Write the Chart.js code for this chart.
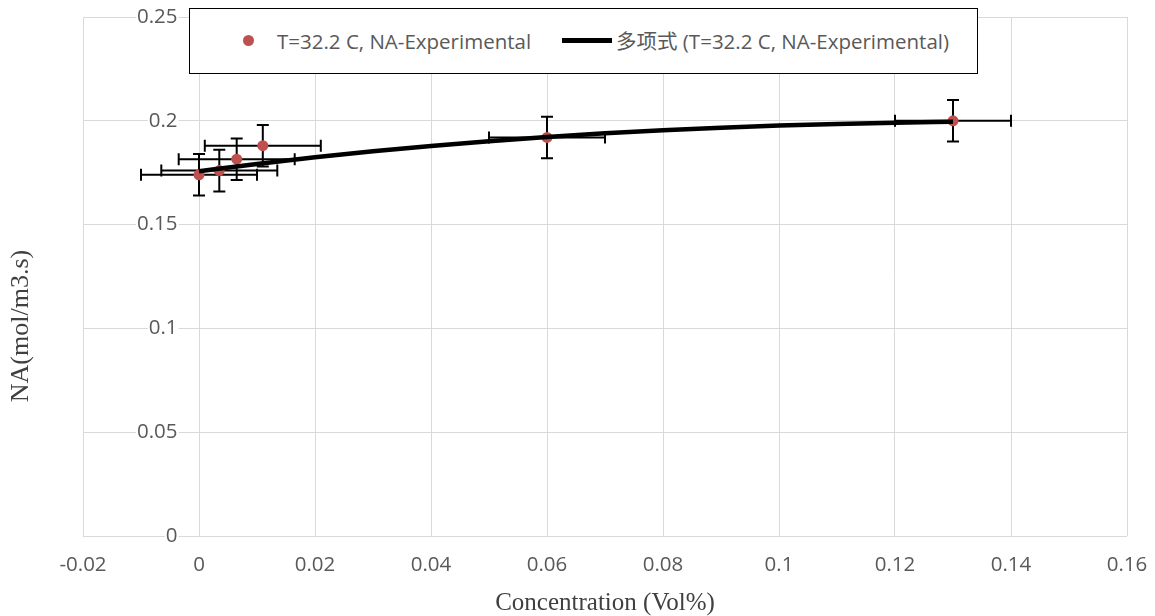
<!DOCTYPE html>
<html>
<head>
<meta charset="utf-8">
<title>NA vs Concentration</title>
<script src="https://cdn.jsdelivr.net/npm/chart.js@4.4.0/dist/chart.umd.min.js"></script>
<style>
  html, body { margin: 0; padding: 0; background: #fff; }
  #wrap { position: relative; width: 1155px; height: 616px; }
  #legend {
    position: absolute; left: 189px; top: 8px; width: 789px; height: 66px;
    box-sizing: border-box; border: 1px solid #000; background: #fff;
    font: 20.5px "Open Sans", "Noto Sans CJK SC", sans-serif; color: #595959;
  }
  #legend .dot { position: absolute; left: 53px; top: 26px; width: 11px; height: 11px; border-radius: 50%; background: #C0504D; }
  #legend .swatch { position: absolute; left: 372px; top: 29px; width: 50px; height: 5px; background: #000; }
  #legend .txt { position: absolute; top: 19px; line-height: 26px; white-space: nowrap; }
</style>
</head>
<body>
<div id="wrap">
  <canvas id="chart" width="1155" height="616"></canvas>
  <div id="legend">
    <span class="dot"></span><span class="txt" id="leg1" style="left:87px"></span>
    <span class="swatch"></span><span class="txt" id="leg2" style="left:426px"></span>
  </div>
</div>
<script>
// measured points (Concentration vs NA) with their error bars
const concentration = [0, 0.0035, 0.0065, 0.011, 0.06, 0.13];
const naRate = [0.174, 0.176, 0.1815, 0.188, 0.192, 0.2];
const concErr = [0.01, 0.01, 0.01, 0.01, 0.01, 0.01];
const rateErr = [0.01, 0.01, 0.01, 0.01, 0.01, 0.01];

// polynomial trend line
const fitX = [0, 0.01, 0.02, 0.03, 0.04, 0.05, 0.06, 0.07, 0.08, 0.09, 0.1, 0.11, 0.12, 0.13];
const fitY = [0.1757, 0.1792, 0.1824, 0.1853, 0.1879, 0.1902, 0.1922, 0.194, 0.1955, 0.1967, 0.1977, 0.1985, 0.1991, 0.1995];

const xTicks = [-0.02, 0, 0.02, 0.04, 0.06, 0.08, 0.1, 0.12, 0.14, 0.16];
const yTicks = [0, 0.05, 0.1, 0.15, 0.2, 0.25];

const seriesName = 'T=32.2 C, NA-Experimental';
const fitName = '多项式 (T=32.2 C, NA-Experimental)';
const xTitle = 'Concentration (Vol%)';
const yTitle = 'NA(mol/m3.s)';

document.getElementById('leg1').textContent = seriesName;
document.getElementById('leg2').textContent = fitName;

const tickFont = { family: '"Open Sans", sans-serif', size: 20.5 };
const fmt = v => String(+Number(v).toFixed(3));

// ===== ERROR BARS =====
const errorBars = {
  id: 'errorBars',
  beforeDatasetsDraw(chart) {
    const { ctx, scales: { x, y } } = chart;
    const cap = 6;
    ctx.save();
    ctx.strokeStyle = '#000';
    ctx.lineWidth = 2;
    concentration.forEach((cx, i) => {
      const px = x.getPixelForValue(cx);
      const py = y.getPixelForValue(naRate[i]);
      const x0 = x.getPixelForValue(cx - concErr[i]);
      const x1 = x.getPixelForValue(cx + concErr[i]);
      const y0 = y.getPixelForValue(naRate[i] - rateErr[i]);
      const y1 = y.getPixelForValue(naRate[i] + rateErr[i]);
      ctx.beginPath();
      ctx.moveTo(x0, py); ctx.lineTo(x1, py);
      ctx.moveTo(x0, py - cap); ctx.lineTo(x0, py + cap);
      ctx.moveTo(x1, py - cap); ctx.lineTo(x1, py + cap);
      ctx.moveTo(px, y0); ctx.lineTo(px, y1);
      ctx.moveTo(px - cap, y0); ctx.lineTo(px + cap, y0);
      ctx.moveTo(px - cap, y1); ctx.lineTo(px + cap, y1);
      ctx.stroke();
    });
    ctx.restore();
  }
};

// y title sits a bit below the middle of the plot, like Excel puts it
const yTitlePlugin = {
  id: 'yTitle',
  afterDraw(chart) {
    const { ctx } = chart;
    ctx.save();
    ctx.translate(21, 326);
    ctx.rotate(-Math.PI / 2);
    ctx.font = '26px "Liberation Serif", serif';
    ctx.fillStyle = '#404040';
    ctx.textAlign = 'center';
    ctx.textBaseline = 'middle';
    ctx.fillText(yTitle, 0, 0);
    ctx.restore();
  }
};

new Chart(document.getElementById('chart'), {
  type: 'scatter',
  data: {
    datasets: [
      {
        label: fitName,
        data: fitX.map((x, i) => ({ x, y: fitY[i] })),
        showLine: true,
        borderColor: '#000',
        borderWidth: 4.5,
        pointRadius: 0,
        cubicInterpolationMode: 'monotone',
        order: 0
      },
      {
        label: seriesName,
        data: concentration.map((x, i) => ({ x, y: naRate[i] })),
        backgroundColor: '#C0504D',
        borderWidth: 0,
        pointRadius: 5.5,
        order: 1
      }
    ]
  },
  options: {
    responsive: false,
    animation: false,
    layout: { padding: { top: 17, right: 28, left: 0, bottom: 0 } },
    plugins: { legend: { display: false }, tooltip: { enabled: false } },
    scales: {
      x: {
        type: 'linear',
        min: -0.02, max: 0.16,
        afterBuildTicks: s => { s.ticks = xTicks.map(v => ({ value: v })); },
        afterFit: s => { s.height = 80; s.paddingLeft = 0; s.paddingRight = 0; },
        grid: { color: '#d9d9d9', drawTicks: false },
        border: { display: false },
        ticks: { color: '#595959', font: tickFont, padding: 17, maxRotation: 0, callback: fmt },
        title: {
          display: true, text: xTitle, color: '#404040',
          font: { family: '"Liberation Serif", serif', size: 25 },
          padding: { top: 0, bottom: -2 }
        }
      },
      y: {
        type: 'linear',
        min: 0, max: 0.25,
        afterBuildTicks: s => { s.ticks = yTicks.map(v => ({ value: v })); },
        afterFit: s => { s.width = 83; s.paddingTop = 0; s.paddingBottom = 0; },
        grid: { color: '#d9d9d9', drawTicks: false },
        border: { display: false },
        // labels sit beside the x = 0 line, as in Excel
        ticks: {
          color: '#595959', font: tickFont, mirror: true, crossAlign: 'far', padding: 54, callback: fmt,
          showLabelBackdrop: true, backdropColor: '#fff', backdropPadding: 1
        }
      }
    }
  },
  plugins: [errorBars, yTitlePlugin]
});
</script>
</body>
</html>
